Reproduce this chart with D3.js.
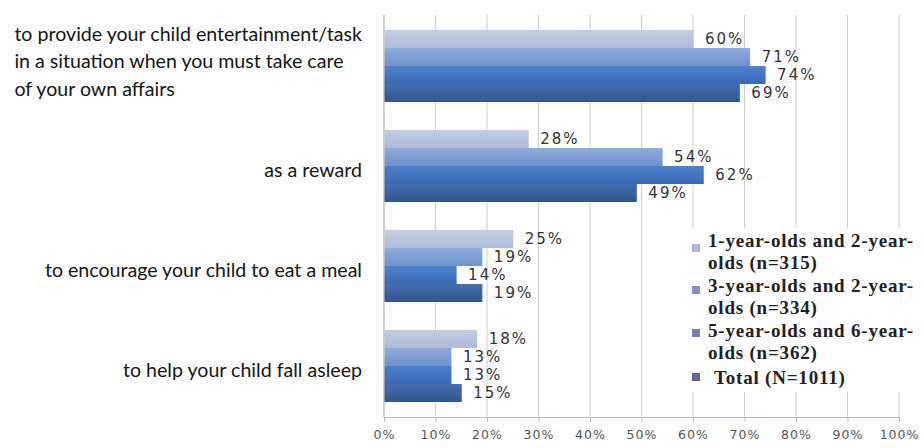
<!DOCTYPE html>
<html>
<head>
<meta charset="utf-8">
<script src="https://cdn.jsdelivr.net/npm/d3@7"></script>
<style>
  body { margin: 0; background: #fff; }
  svg { display: block; }
</style>
</head>
<body>
<svg id="chart"></svg>
<script>
var w = 924;
var h = 448;

var categories = [
  ['to provide your child entertainment/task', 'in a situation when you must take care', 'of your own affairs'],
  ['as a reward'],
  ['to encourage your child to eat a meal'],
  ['to help your child fall asleep']
];
var seriesNames = ['s1', 's2', 's3', 'total'];
var legendLines = [
  ['1-year-olds and 2-year-', 'olds (n=315)'],
  ['3-year-olds and 2-year-', 'olds (n=334)'],
  ['5-year-olds and 6-year-', 'olds (n=362)'],
  ['Total (N=1011)']
];
var s1 = [60, 28, 25, 18];
var s2 = [71, 54, 19, 13];
var s3 = [74, 62, 14, 13];
var total = [69, 49, 19, 15];
var tickValues = [0, 10, 20, 30, 40, 50, 60, 70, 80, 90, 100];

var values = [s1, s2, s3, total];
var barTop = ['#c3cde2', '#8fabdb', '#4f82cc', '#456db0'];
var barBot = ['#aebcd8', '#7092cc', '#3a69b2', '#34558f'];
var legendColors = ['#b3b8d2', '#8a90bc', '#767cae', '#62689a'];

var svg = d3.select('#chart').attr('width', w).attr('height', h);

var x = d3.scaleLinear().domain([0, 100]).range([384, 899]);
var y = d3.scaleBand().domain(d3.range(categories.length)).range([15, 417])
  .paddingInner(0.28).paddingOuter(0.15);
var ySub = d3.scaleBand().domain(d3.range(seriesNames.length)).range([0, y.bandwidth()]);

// gradients
var defs = svg.append('defs');
seriesNames.forEach(function (s, i) {
  var g = defs.append('linearGradient').attr('id', 'grad' + i)
    .attr('x1', 0).attr('y1', 0).attr('x2', 0).attr('y2', 1);
  g.append('stop').attr('offset', '0%').attr('stop-color', barTop[i]);
  g.append('stop').attr('offset', '100%').attr('stop-color', barBot[i]);
});

// gridlines
svg.append('g').selectAll('line')
  .data(tickValues.filter(function (d) { return d > 0; }))
  .enter().append('line')
  .attr('x1', function (d) { return x(d); })
  .attr('x2', function (d) { return x(d); })
  .attr('y1', 15).attr('y2', 417)
  .attr('stroke', '#cfcfcf').attr('stroke-width', 1);

// x axis
var axis = svg.append('g').attr('transform', 'translate(0,417)')
  .call(d3.axisBottom(x).tickValues(tickValues).tickSize(5).tickPadding(8)
    .tickFormat(function (d) { return d + '%'; }));
axis.select('.domain').attr('stroke', '#bbb');
axis.selectAll('.tick line').attr('stroke', '#bbb');
axis.selectAll('text')
  .attr('font-family', 'DejaVu Sans, Verdana, sans-serif')
  .attr('font-size', '12.5px')
  .attr('letter-spacing', '1px')
  .attr('fill', '#555');

// y axis line
svg.append('line').attr('x1', 384).attr('x2', 384).attr('y1', 15).attr('y2', 417)
  .attr('stroke', '#aaa');

// bars
var groups = svg.selectAll('g.grp')
  .data(categories)
  .enter().append('g').attr('class', 'grp')
  .attr('transform', function (d, i) { return 'translate(0,' + y(i) + ')'; });

groups.each(function (c, ci) {
  var g = d3.select(this);
  g.selectAll('rect')
    .data(values.map(function (v) { return v[ci]; }))
    .enter().append('rect')
    .attr('x', x(0) + 0.5)
    .attr('y', function (d, si) { return ySub(si); })
    .attr('width', function (d) { return x(d) - x(0); })
    .attr('height', ySub.bandwidth())
    .attr('fill', function (d, si) { return 'url(#grad' + si + ')'; });
  g.selectAll('text.val')
    .data(values.map(function (v) { return v[ci]; }))
    .enter().append('text').attr('class', 'val')
    .attr('x', function (d) { return x(d) + 12; })
    .attr('y', function (d, si) { return ySub(si) + ySub.bandwidth() / 2 + 5; })
    .attr('font-family', 'DejaVu Sans, Verdana, sans-serif')
    .attr('font-size', '15px')
    .attr('letter-spacing', '2px')
    .attr('fill', '#333')
    .text(function (d) { return d + '%'; });
});

// category labels
var labelRight = 362;
categories.forEach(function (lines, i) {
  var cy = y(i) + y.bandwidth() / 2;
  var lh = 27.5;
  var t = svg.append('text')
    .attr('font-family', 'Lato, Open Sans, sans-serif')
    .attr('font-size', '19.6px')
    .attr('fill', '#151515');
  var spans = lines.map(function (l, li) {
    return t.append('tspan').attr('x', 0)
      .attr('y', cy + 5 + (lines.length > 1 ? (li - (lines.length - 1) / 2) * lh - 3 : 6))
      .text(l);
  });
  var maxW = d3.max(spans, function (s) { return s.node().getComputedTextLength(); });
  spans.forEach(function (s) { s.attr('x', labelRight - maxW); });
});

// legend
var lg = svg.append('g');
lg.append('rect').attr('x', 688).attr('y', 228).attr('width', 236).attr('height', 164)
  .attr('fill', '#fff');
var markerY = [248, 290, 333, 377];
var ly = 247;
legendLines.forEach(function (lines, i) {
  if (i === 3) ly += 3;
  lg.append('rect').attr('x', 692).attr('y', markerY[i] - 4).attr('width', 8).attr('height', 8)
    .attr('fill', legendColors[i]);
  var t = lg.append('text')
    .attr('font-family', 'Liberation Serif, Times New Roman, serif')
    .attr('font-weight', 'bold')
    .attr('font-size', '19px')
    .attr('letter-spacing', '0.8px')
    .attr('fill', '#222');
  lines.forEach(function (l, li) {
    t.append('tspan').attr('x', i === 3 ? 714 : 708).attr('y', ly + li * 22.4).text(l);
  });
  ly += lines.length * 22.4;
});
</script>
</body>
</html>
